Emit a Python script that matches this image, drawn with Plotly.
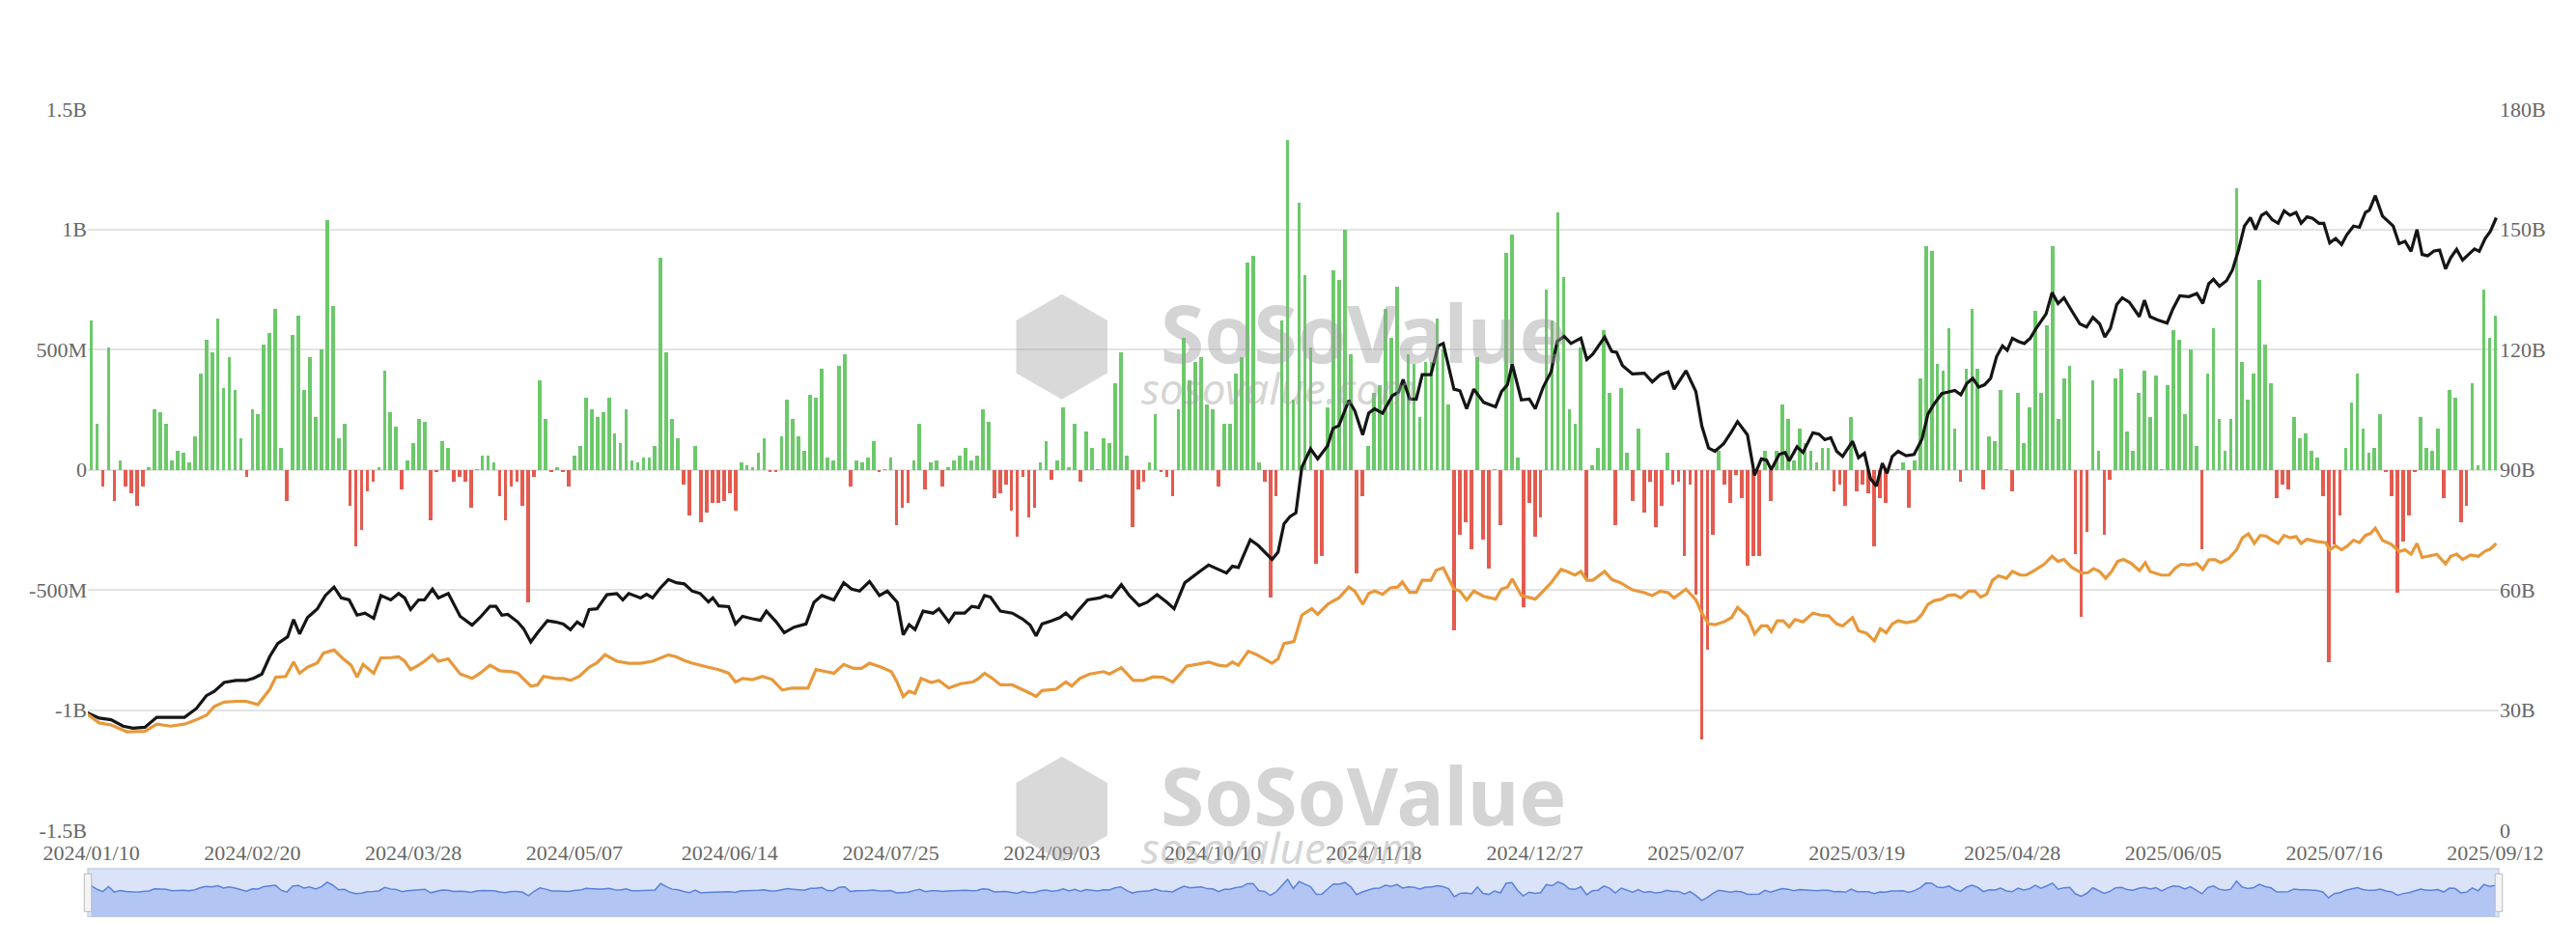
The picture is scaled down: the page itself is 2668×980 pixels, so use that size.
import plotly.graph_objects as go
import pandas as pd
from pandas.tseries.holiday import USFederalHolidayCalendar

# daily net inflow (billions USD), 4 consecutive segments
flows_1 = [0.62,0.19,-0.07,0.51,-0.13,0.04,-0.07,-0.10,-0.15,-0.07,
0.01,0.25,0.24,0.19,0.04,0.08,0.07,0.03,0.14,0.40,
0.54,0.49,0.63,0.34,0.47,0.33,0.13,-0.03,0.25,0.23,
0.52,0.57,0.67,0.09,-0.13,0.56,0.64,0.33,0.47,0.22,
0.50,1.04,0.68,0.13,0.19,-0.15,-0.32,-0.25,-0.09,-0.05,
0.01,0.41,0.24,0.18,-0.08,0.04,0.11,0.21,0.20,-0.21,
-0.01,0.12,0.09,-0.05,-0.03,-0.05,-0.16,0.002,0.06,0.06,
0.03,-0.11,-0.21,-0.07,-0.05,-0.15,-0.55,-0.03,0.37,0.21,
-0.01,0.01,-0.01,-0.07,0.06,0.10,0.30,0.25,0.22,0.24,
0.30,0.15,0.11,0.25,0.04,0.03,0.05,0.05,0.10,0.88,
0.49,0.21,0.13,-0.06,-0.19,0.10,-0.22,-0.18]
flows_2 = [-0.14,-0.14,-0.13,-0.10,-0.17,0.03,0.02,0.01,0.07,0.13,
-0.01,-0.01,0.14,0.29,0.21,0.14,0.08,0.31,0.30,0.42,
0.05,0.04,0.43,0.48,-0.07,0.04,0.03,0.05,0.12,-0.01,
0.002,0.05,-0.23,-0.16,-0.14,0.04,0.19,-0.08,0.03,0.04,
-0.07,0.01,0.04,0.06,0.09,0.04,0.06,0.25,0.20,-0.12,
-0.10,-0.06,-0.17,-0.28,-0.03,-0.20,-0.16,0.03,0.12,-0.04,
0.04,0.26,0.01,0.19,-0.05,0.16,0.09,0.002,0.13,0.11,
0.36,0.49,0.06,-0.24,-0.08,-0.05,0.03,0.23,-0.01,-0.03,
-0.11,0.25,0.55,0.37,0.45,0.47,0.27,0.25,-0.07,0.19,
0.19,0.40,0.47,0.86,0.89,0.03,-0.05,-0.53,-0.11,0.62,
1.37,0.29,1.11,0.81,0.51,-0.39,-0.36]
flows_3 = [0.26,0.83,0.79,1.00,0.48,-0.43,-0.11,0.10,0.32,0.35,
0.67,0.55,0.76,0.35,0.48,0.44,0.22,0.45,0.45,0.63,
0.50,0.27,-0.67,-0.27,-0.22,-0.33,0.47,-0.29,-0.41,0.002,
-0.23,0.90,0.98,0.05,-0.57,-0.14,-0.28,-0.20,0.75,0.62,
1.07,0.80,0.25,0.19,0.51,-0.45,0.02,0.09,0.58,0.32,
-0.23,0.34,0.07,-0.13,0.17,-0.18,-0.05,-0.24,-0.15,0.07,
-0.06,-0.05,-0.36,-0.06,-0.52,-1.12,-0.75,-0.27,0.08,-0.06,
-0.14,-0.02,-0.12,-0.40,-0.36,-0.36,0.08,-0.13,0.08,0.27,
0.21,0.04,0.17,0.11,0.08,0.03,0.09,0.09,-0.09,-0.06,
-0.15,0.22,-0.09,-0.06,-0.10,-0.32,-0.12,-0.14,0.002,0.002,
0.03,-0.16,0.04,0.38,0.93,0.91,0.44,0.41]
flows_4 = [0.59,0.17,-0.05,0.42,0.67,0.42,-0.08,0.14,0.12,0.33,
0.002,-0.09,0.32,0.11,0.26,0.66,0.32,0.60,0.93,0.21,
0.38,0.43,-0.35,-0.61,-0.26,0.37,0.08,-0.27,-0.04,0.38,
0.42,0.16,0.08,0.32,0.41,0.22,0.39,0.002,0.35,0.58,
0.54,0.23,0.50,0.10,-0.33,0.40,0.59,0.21,0.08,0.21,
1.17,0.45,0.29,0.40,0.79,0.52,0.36,-0.12,-0.06,-0.08,
0.22,0.13,0.15,0.08,0.05,-0.11,-0.80,-0.31,-0.19,0.09,
0.28,0.40,0.17,0.07,0.09,0.23,-0.01,-0.11,-0.51,-0.30,
-0.19,-0.01,0.22,0.09,0.08,0.17,-0.12,0.33,0.30,-0.22,
-0.15,0.36,0.02,0.75,0.55,0.64]

# line samples: (day offset within the 4 segments, value in billions)
seg_start = [0, 108, 215, 323]
seg_x0 = [10, 14, 2, 5]
day_step = 14.5

assets_x = [
 [0,30,60,90,115,145,175,210,245,275,300,320,345,375,400,420,440,460,480,505,520,535,555,580,600,622,640,660,680,700,722,740,765,785,800,815,835,850,870,885,910,940,970,990,1015,1030,1045,1060,1085,1100,1118,1135,1160,1180,1200,1218,1235,1250,1265,1285,1310,1335,1350,1365,1395,1410,1425,1445,1465,1485,1505,1525,1545,1566],
 [15,30,55,72,90,115,135,150,175,195,220,250,270,290,320,345,365,385,410,435,455,480,495,510,525,545,570,585,610,625,650,668,685,700,715,740,770,795,815,830,845,870,890,905,920,935,960,990,1005,1020,1045,1065,1090,1110,1135,1160,1178,1205,1225,1245,1265,1290,1310,1325,1340,1370,1390,1425,1440,1455,1470,1485,1500,1522,1540,1565],
 [15,30,55,70,90,105,120,140,165,180,192,208,225,240,262,280,293,320,335,352,370,395,425,440,455,467,490,510,525,545,565,580,598,615,640,655,670,700,718,730,745,770,800,820,840,860,875,905,930,945,962,978,1000,1020,1035,1060,1078,1095,1108,1120,1140,1155,1165,1185,1200,1225,1240,1255,1270,1285,1300,1325,1340,1355,1370,1385,1400,1412,1425,1440,1460,1480,1500,1515,1530,1550,1565],
 [20,35,50,65,80,95,110,125,140,152,165,180,195,210,225,250,265,280,295,315,335,352,368,385,398,412,428,442,460,485,498,512,530,555,570,587,610,630,645,660,672,687,705,720,735,750,765,778,793,805,820,835,850,865,880,893,908,922,938,950,965,980,995,1008,1025,1040,1055,1065,1080,1098,1112,1125,1140,1155,1170,1185,1198,1212,1228,1242,1257,1270,1285,1300,1315,1330,1342,1357,1370,1385]]
assets_v = [
 [29.3,28,27.6,26,25.5,25.7,28.2,28.2,28.2,30.4,33.6,34.7,36.9,37.4,37.4,38,39,43.4,46.6,48.3,52.6,49,53.1,55.3,58.6,60.7,58,57.5,53.7,54.2,52.9,58.6,57.5,59.1,58,55.1,57.5,57.5,60.2,58,59.1,53.4,51.2,53.1,55.9,55.9,53.7,53.9,52,50.3,47,49.3,52.3,52,51.5,50.1,52,51,55.1,55.3,58.8,59.1,57.5,59.1,58,58.9,58,60.5,62.6,61.8,61.5,59.7,59.1,57],
 [58,56,55.8,51.5,53.4,52.8,52.4,54.7,52,49.3,50.7,51.5,56.9,58.6,57.5,61.8,60.2,59.7,62.1,58.6,59.7,56.9,48.8,51.3,50.1,54.7,54.2,55.3,52,54.2,54.2,55.9,55.6,58.6,58.2,54.7,54.2,52.8,51.2,48.5,51.5,52.3,53.1,54.2,52.8,54.7,57.5,58,58.6,58.2,61.3,58.6,56.1,56.9,58.8,56.9,55.3,61.8,63.4,64.8,66.2,65.1,64.2,65.9,65.6,72.5,71.1,67.6,69.4,76.5,78.3,79.2,90.6,95.2,92.7,96],
 [100.3,101,107.3,104.7,98.7,104.1,105.2,104.1,108.5,109.3,112.5,107.7,107.6,113.7,113.7,120.9,121.5,110.1,109.7,105.2,110.1,106.8,105.7,109.5,111.2,116.3,107.4,107.6,105.2,110.6,114.4,122,123.3,121.5,122.8,117.5,118.8,123.1,119.5,119.3,116,113.9,114.1,111.9,113.7,114.4,110.1,114.7,109.5,100.9,95.4,94.6,96.5,99.5,102,98.7,88.6,92.7,92.4,90,93.8,94.3,92.2,95.7,94.3,99.2,98.9,97.5,98,94.6,93.3,97.1,93,94.1,87.8,85.9,91.6,89.1,93.3,94.6,93.5,93.8,97.6,103.9,106.3,109,109.3],
 [109.8,108.7,111.5,112.8,110.6,111.2,112.8,118.2,120.9,119.8,122.8,122,121.5,122.8,125.3,128.9,134.2,131.5,132.9,129.6,126.4,125.6,128,126.4,123.1,125.3,131.2,132.9,131.8,128.2,132.3,128.2,127.4,126.6,130.2,133.4,133.2,134,131.5,136.4,137.5,135.8,137.2,139.9,144.8,150.8,152.9,149.9,153.5,154.2,152.4,151.5,154.6,153.5,154.2,151.5,153.1,152.7,151.5,151.5,146.6,147.7,146.2,148.6,150.8,150.5,154.2,154.8,158.4,153.3,152.1,150.8,146.4,147,144.5,149.9,143.7,143.4,144.6,144.8,140.1,142.9,145,142.3,143.7,145.1,144.5,147.7,149.5,152.9]]

inflow_x = [
 [0,30,60,100,145,175,210,245,275,300,320,345,375,400,430,460,475,500,520,535,555,580,595,622,645,665,680,695,722,740,765,785,800,815,835,850,870,885,910,940,970,990,1015,1040,1070,1085,1118,1135,1150,1180,1200,1218,1240,1265,1285,1305,1335,1365,1395,1425,1465,1485,1505,1525,1566],
 [30,55,72,90,115,140,165,190,215,255,275,300,320,345,370,390,410,440,465,480,495,510,525,540,565,585,610,640,670,685,700,720,740,770,795,815,830,845,880,905,920,940,965,1000,1015,1045,1075,1100,1125,1150,1175,1210,1240,1265,1290,1310,1325,1340,1365,1385,1425,1440,1455,1480,1500,1525,1540,1565],
 [15,30,55,70,90,105,120,140,160,178,190,208,225,240,262,275,293,320,335,352,370,395,425,440,455,467,490,510,525,545,565,590,605,625,640,655,670,700,718,740,770,800,820,840,860,875,905,930,945,962,978,1000,1020,1035,1060,1078,1095,1110,1120,1135,1150,1165,1180,1200,1225,1245,1265,1285,1300,1325,1340,1360,1380,1395,1410,1425,1440,1460,1485,1500,1515,1530,1550,1565],
 [20,35,55,70,85,100,115,130,150,165,185,200,220,245,265,280,295,315,340,355,370,385,400,415,430,445,465,485,500,512,540,560,575,590,610,630,645,660,675,690,710,730,745,760,775,790,805,820,835,850,865,880,893,908,930,955,965,980,995,1010,1025,1040,1055,1068,1080,1098,1120,1140,1155,1170,1185,1198,1215,1235,1257,1270,1285,1300,1320,1340,1357,1370,1385]]
inflow_v = [
 [29,26.8,26.3,24.6,24.7,26.5,26,26.5,27.6,28.7,30.9,32,32.2,32.2,31.4,35.2,38.2,38.4,42,39.2,40.7,41.8,44.2,45,42.8,41.2,38.2,41.4,39.2,43,43.1,43.3,42.2,40.1,41.2,42.2,43.8,42.2,42.8,39,37.9,39.2,41.2,39.8,39.6,39.2,36,36.3,38.4,37.9,37.9,37.4,38.4,40.7,41.8,43.8,42.2,41.7,41.7,42.2,43.8,43.3,42.4,41.7,40.7],
 [40.1,39.2,37,37.9,37.6,38.4,37.6,35,35.5,35.5,40.1,39.6,39.2,41.4,40.4,40.4,41.7,40.7,39.6,36.9,33.4,34.7,34.2,37.9,36.9,37.4,35.5,36.6,37,37.9,39.2,37.9,36.3,36.3,35.2,34.2,33.4,34.9,35.2,37,36,37.9,39,39.6,39,40.6,37.4,37.4,38.3,38.2,37,41,41.5,42,41.2,41,42,41.2,44.7,43.9,41.7,42.8,46.6,47.1,53.7,55.3,53.9,56.4],
 [57.2,58,60.7,59.7,56.4,59.1,59.7,58.9,60.5,60.7,62,59.4,59.4,62.4,62.4,64.9,65.5,60.2,59.7,57.5,59.7,58.4,57.7,60.2,60.7,62.7,58.6,58,57.7,59.7,61.8,65.1,64.6,63.7,64.6,62.4,62.4,64.6,62.6,61.8,60,59.3,58.6,59.7,59.3,58,60.2,57.5,54.2,51.5,51.3,52,53.1,55.6,53.4,49,51,51,49.6,52.3,52.3,50.8,52.6,52,54.2,53.7,53.5,51.5,51,53.1,49.8,49.2,47.3,50.3,49.3,51.5,52.3,51.8,52.3,53.9,56.4,57.3,57.7,58.6],
 [58.8,58,59.7,59.7,58.2,58.9,62.4,63.5,62.9,64.6,63.7,63.7,64.8,66.4,68.4,67.1,67.6,65.6,64.2,64.3,65.3,64.6,62.9,64.6,67.1,67.6,66.6,64.8,66.8,64.6,63.7,63.7,65.4,66.4,66.2,66.6,65.1,67.5,67.6,66.8,67.8,70,73,74,71.6,73.6,73.4,72.4,71.6,73.6,73,73.3,71.6,72.7,72.1,71.8,70,71,70,71,72.4,71.8,73.6,74.1,75.4,72.4,71.4,69.6,70,68.9,71.6,68.1,68.4,68.9,66.5,68.4,68.9,67.6,68.7,68.4,69.7,70.2,71.6]]

tick_labels = ["2024/01/10","2024/02/20","2024/03/28","2024/05/07","2024/06/14","2024/07/25",
               "2024/09/03","2024/10/10","2024/11/18","2024/12/27","2025/02/07","2025/03/19",
               "2025/04/28","2025/06/05","2025/07/16","2025/09/12"]

flows = flows_1 + flows_2 + flows_3 + flows_4
N = len(flows)
hol = USFederalHolidayCalendar().holidays("2024-01-01", "2025-12-31")
dates = [d for d in pd.bdate_range("2024-01-11", "2025-12-31") if d not in hol][:N]
day = list(range(N))

def to_days(xs_list):
    out = []
    for s, xs in enumerate(xs_list):
        out += [seg_start[s] + (x - seg_x0[s]) / day_step for x in xs]
    return out

ax_ = to_days(assets_x); av_ = sum(assets_v, [])
ix_ = to_days(inflow_x); iv_ = sum(inflow_v, [])

GREEN = "#6cc96a"; RED = "#e45b4f"
fig = go.Figure()
fig.add_trace(go.Bar(x=day, y=[v * 1e9 for v in flows], width=0.62,
                     marker=dict(color=[GREEN if v >= 0 else RED for v in flows], line_width=0),
                     customdata=[d.strftime("%Y/%m/%d") for d in dates],
                     hovertemplate="%{customdata}: %{y}<extra></extra>", name="Daily Net Inflow"))
fig.add_trace(go.Scatter(x=ax_, y=[v * 1e9 for v in av_], yaxis="y2", mode="lines",
                         line=dict(color="#151515", width=3.2), name="Total Net Assets"))
fig.add_trace(go.Scatter(x=ix_, y=[v * 1e9 for v in iv_], yaxis="y2", mode="lines",
                         line=dict(color="#e8983a", width=3.2), name="Cumulative Net Inflow"))
# range-slider preview of the daily flows
fig.add_trace(go.Scatter(x=day, y=[-3.0] * N, xaxis="x2", yaxis="y3", mode="lines",
                         line=dict(width=0), showlegend=False, hoverinfo="skip"))
fig.add_trace(go.Scatter(x=day, y=flows, xaxis="x2", yaxis="y3", mode="lines", fill="tonexty",
                         line=dict(color="#5b82dc", width=1.5), fillcolor="rgba(130,160,235,0.45)",
                         showlegend=False, hoverinfo="skip"))

tickpos = [round(k * (N - 1) / (len(tick_labels) - 1)) for k in range(len(tick_labels))]
font = dict(family="Liberation Serif", size=22, color="#666666")
fig.update_layout(
    width=2668, height=980, margin=dict(l=83, r=88, t=105, b=14),
    paper_bgcolor="white", plot_bgcolor="white", showlegend=False, bargap=0,
    xaxis=dict(range=[-0.6, N - 0.4], tickvals=tickpos, ticktext=tick_labels, tickfont=font,
               showgrid=False, zeroline=False, showline=False, ticks="", domain=[0, 1],
               ticklabelstandoff=8),
    yaxis=dict(range=[-1.5e9, 1.5e9], tickvals=[-1.5e9, -1e9, -5e8, 0, 5e8, 1e9, 1.5e9],
               ticktext=["-1.5B", "-1B", "-500M", "0", "500M", "1B", "1.5B"], tickfont=font,
               gridcolor="#e3e3e3", gridwidth=1.5, zeroline=False, domain=[0.121, 1]),
    yaxis2=dict(range=[0, 180e9], tickvals=[i * 30e9 for i in range(7)],
                ticktext=["0", "30B", "60B", "90B", "120B", "150B", "180B"], tickfont=font,
                overlaying="y", side="right", showgrid=False, zeroline=False),
    xaxis2=dict(range=[-0.6, N - 0.4], anchor="y3", showticklabels=False, showgrid=False,
                zeroline=False, domain=[0, 1]),
    yaxis3=dict(domain=[0.016, 0.074], range=[-3.0, 2.6], showticklabels=False,
                showgrid=False, zeroline=False),
)
fig.add_shape(type="rect", xref="paper", yref="paper", x0=0, x1=1, y0=0.016, y1=0.074,
              fillcolor="rgba(150,175,235,0.35)", line=dict(color="#c8cfe0", width=1.5), layer="below")
for xh in (0, 1):
    fig.add_shape(type="rect", xref="paper", yref="paper", x0=xh - 0.0015, x1=xh + 0.0015,
                  y0=0.022, y1=0.068, fillcolor="#f4f4f4", line=dict(color="#bbbbbb", width=1))
for ys, yc in ((0.728, 0.660), (0.165, 0.100)):
    fig.add_annotation(xref="paper", yref="paper", x=0.529, y=ys, xanchor="center", yanchor="middle",
                       text="<b>SoSoValue</b>", showarrow=False,
                       font=dict(family="Noto Sans", size=82, color="rgba(160,160,160,0.45)"))
    fig.add_annotation(xref="paper", yref="paper", x=0.494, y=yc, xanchor="center", yanchor="middle",
                       text="<i>sosovalue.com</i>", showarrow=False,
                       font=dict(family="Noto Sans", size=44, color="rgba(160,160,160,0.45)"))
    fig.add_annotation(xref="paper", yref="paper", x=0.404, y=ys - 0.015, xanchor="center", yanchor="middle",
                       text="⬢", showarrow=False,
                       font=dict(family="DejaVu Sans", size=130, color="rgba(160,160,160,0.40)"))
fig.write_html("out.html")
